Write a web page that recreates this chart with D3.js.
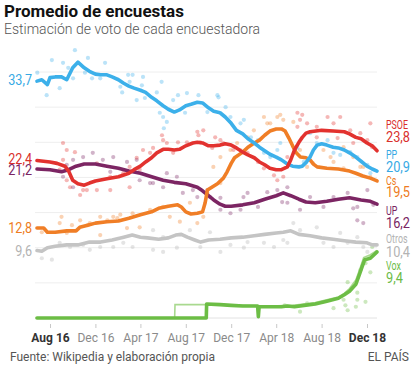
<!DOCTYPE html>
<html><head><meta charset="utf-8">
<script src="https://cdn.jsdelivr.net/npm/d3@7"></script>
<style>
body{margin:0;background:#fff;}
svg{display:block;font-family:Roboto,"Noto Sans",sans-serif;}
</style></head><body>
<svg id="c" width="414" height="367"></svg>
<script>
// ---------- DATA ----------
const parties = ["PSOE","PP","Cs","UP","Otros","Vox"];
const tickDates = ["2016-08-01","2016-12-01","2017-04-01","2017-08-01","2017-12-01","2018-04-01","2018-08-01","2018-12-01"];
const tickLabels = ["Aug 16","Dec 16","Apr 17","Aug 17","Dec 17","Apr 18","Aug 18","Dec 18"];
const gridValues = [0,5,10,15,20,25,30,35];

const ppLine = [["2016-06-27",33.7],["2016-07-10",33.9],["2016-07-25",33.2],["2016-08-01",34.2],["2016-08-15",34.3],["2016-09-01",34.3],["2016-09-15",33.9],["2016-10-01",35.6],["2016-10-15",36.4],["2016-11-01",35.6],["2016-11-15",35.1],["2016-12-01",34.7],["2016-12-15",34.6],["2017-01-01",34.6],["2017-01-15",34.3],["2017-02-01",33.9],["2017-02-15",33.4],["2017-03-01",33.0],["2017-03-15",32.7],["2017-04-01",32.4],["2017-04-15",32.1],["2017-05-01",31.4],["2017-05-15",30.9],["2017-06-01",30.2],["2017-06-15",29.7],["2017-07-01",29.3],["2017-07-15",29.6],["2017-08-01",30.2],["2017-08-15",30.4],["2017-09-01",30.7],["2017-09-15",30.6],["2017-10-01",29.9],["2017-10-15",29.4],["2017-11-01",29.2],["2017-11-15",28.6],["2017-12-01",27.7],["2017-12-15",26.7],["2018-01-01",26.2],["2018-01-15",25.5],["2018-02-01",24.9],["2018-02-15",24.3],["2018-03-01",23.8],["2018-03-15",23.3],["2018-04-01",22.9],["2018-04-15",22.5],["2018-05-01",21.9],["2018-05-15",21.6],["2018-06-01",21.5],["2018-06-10",21.6],["2018-06-20",22.1],["2018-07-01",22.9],["2018-07-10",23.9],["2018-07-20",24.6],["2018-08-01",24.8],["2018-08-15",24.6],["2018-09-01",24.3],["2018-09-15",24.2],["2018-10-01",23.9],["2018-10-15",23.5],["2018-11-01",22.9],["2018-11-15",22.3],["2018-12-01",21.6],["2018-12-15",21.2],["2018-12-28",20.9]];

const psoeLine = [["2016-06-27",22.4],["2016-08-01",22.2],["2016-08-20",22.0],["2016-09-10",21.6],["2016-09-20",20.9],["2016-10-01",19.6],["2016-10-15",19.1],["2016-11-01",18.9],["2016-11-15",19.2],["2016-12-01",19.5],["2017-01-01",19.8],["2017-02-01",20.1],["2017-03-01",20.6],["2017-03-15",21.1],["2017-04-01",21.6],["2017-04-15",22.2],["2017-05-01",22.8],["2017-05-15",23.5],["2017-06-01",24.0],["2017-06-15",24.0],["2017-07-01",23.9],["2017-07-15",24.0],["2017-08-01",24.5],["2017-08-20",24.9],["2017-09-01",25.0],["2017-09-15",24.9],["2017-10-01",24.5],["2017-10-15",24.5],["2017-11-01",24.6],["2017-11-15",24.8],["2017-12-01",24.6],["2017-12-15",24.2],["2018-01-01",23.6],["2018-01-15",23.2],["2018-02-01",22.8],["2018-02-15",22.2],["2018-03-01",21.8],["2018-03-15",21.3],["2018-04-01",21.1],["2018-04-15",21.1],["2018-05-01",21.5],["2018-05-10",22.5],["2018-05-20",23.9],["2018-06-01",25.0],["2018-06-10",25.7],["2018-06-20",26.3],["2018-07-01",26.5],["2018-08-01",26.7],["2018-09-01",26.6],["2018-10-01",26.5],["2018-10-15",26.2],["2018-11-01",25.7],["2018-11-15",25.5],["2018-12-01",24.9],["2018-12-15",24.5],["2018-12-28",23.8]];

const upLine = [["2016-06-27",21.2],["2016-08-01",21.1],["2016-09-01",20.8],["2016-09-20",21.1],["2016-10-10",21.6],["2016-11-01",21.9],["2016-12-01",21.9],["2017-01-01",21.6],["2017-02-01",21.3],["2017-03-01",20.9],["2017-04-01",20.6],["2017-05-01",20.1],["2017-06-01",19.6],["2017-07-01",19.3],["2017-08-01",19.1],["2017-09-01",18.6],["2017-09-15",18.1],["2017-10-01",17.4],["2017-10-15",16.8],["2017-11-01",16.2],["2017-11-15",15.9],["2017-12-01",15.9],["2018-01-01",16.1],["2018-02-01",16.4],["2018-03-01",16.9],["2018-04-01",17.4],["2018-04-20",17.8],["2018-05-10",17.4],["2018-06-01",16.9],["2018-06-20",16.5],["2018-07-15",16.4],["2018-08-15",16.6],["2018-09-15",16.9],["2018-10-15",17.1],["2018-11-15",16.8],["2018-12-10",16.6],["2018-12-28",16.2]];

const csLine = [["2016-06-27",12.8],["2016-07-15",12.8],["2016-07-25",12.2],["2016-08-15",12.2],["2016-09-15",12.4],["2016-10-10",12.4],["2016-10-20",12.9],["2016-11-10",13.2],["2016-12-01",13.5],["2017-01-01",13.7],["2017-02-01",13.8],["2017-03-01",14.2],["2017-04-01",14.7],["2017-05-01",15.1],["2017-05-20",15.6],["2017-06-15",15.9],["2017-07-10",16.1],["2017-07-20",15.8],["2017-08-01",15.1],["2017-08-15",14.8],["2017-09-01",14.9],["2017-09-15",15.1],["2017-09-22",16.4],["2017-09-28",18.2],["2017-10-10",18.6],["2017-10-25",19.1],["2017-11-10",19.9],["2017-11-20",20.8],["2017-12-01",22.0],["2017-12-10",22.8],["2018-01-01",23.6],["2018-01-15",24.3],["2018-02-01",24.9],["2018-02-15",25.3],["2018-03-01",26.0],["2018-03-15",26.6],["2018-04-01",26.9],["2018-04-15",26.9],["2018-04-25",26.6],["2018-05-05",25.6],["2018-05-15",24.5],["2018-05-25",23.5],["2018-06-05",22.9],["2018-06-20",22.8],["2018-07-01",22.5],["2018-07-10",21.9],["2018-07-20",21.5],["2018-08-15",21.3],["2018-09-15",21.2],["2018-10-15",20.9],["2018-11-01",20.6],["2018-11-20",20.2],["2018-12-10",19.9],["2018-12-28",19.5]];

const otrosLine = [["2016-06-27",9.6],["2016-07-10",9.5],["2016-07-25",10.0],["2016-08-15",10.2],["2016-09-15",10.4],["2016-10-15",10.4],["2016-11-15",10.8],["2016-12-15",10.8],["2017-01-15",11.1],["2017-02-15",11.5],["2017-03-10",11.8],["2017-04-01",11.5],["2017-04-20",11.4],["2017-05-20",11.2],["2017-06-15",11.4],["2017-07-05",11.8],["2017-07-20",11.9],["2017-08-05",11.5],["2017-08-25",11.1],["2017-09-10",10.8],["2017-10-01",11.1],["2017-11-01",11.2],["2017-12-01",11.4],["2018-01-01",11.5],["2018-02-01",11.7],["2018-03-01",11.9],["2018-04-01",12.1],["2018-04-20",12.2],["2018-05-10",12.4],["2018-06-01",11.9],["2018-07-01",11.7],["2018-08-01",11.4],["2018-09-01",11.2],["2018-10-01",11.0],["2018-11-01",10.8],["2018-12-01",10.7],["2018-12-15",10.4],["2018-12-28",10.4]];

const voxLine = [["2016-06-27",0],["2017-09-25",0],["2017-09-26",2.0],["2017-11-01",1.9],["2017-12-01",1.8],["2018-01-01",1.7],["2018-02-10",1.7],["2018-02-12",0.2],["2018-02-14",1.6],["2018-03-15",1.6],["2018-04-15",1.6],["2018-05-01",1.7],["2018-05-20",1.6],["2018-06-15",1.8],["2018-07-15",2.0],["2018-08-15",2.4],["2018-09-15",2.8],["2018-10-01",3.3],["2018-10-15",3.8],["2018-11-01",4.8],["2018-11-10",6.1],["2018-11-18",7.3],["2018-11-25",8.3],["2018-12-10",8.5],["2018-12-20",9.0],["2018-12-28",9.4]];

const voxAltLine = [["2016-06-27",0],["2017-07-02",0],["2017-07-03",1.9],["2017-10-01",1.9],["2018-01-01",1.8],["2018-03-15",1.7],["2018-05-15",1.8],["2018-06-15",2.0],["2018-07-15",2.2],["2018-08-15",2.6],["2018-09-15",3.0],["2018-10-01",3.5],["2018-10-15",4.2],["2018-11-01",5.4],["2018-11-12",7.0],["2018-11-22",8.6],["2018-12-10",9.0],["2018-12-28",9.6]];

const ppPolls = [["2016-06-28",34.9],["2016-07-23",31.7],["2016-08-06",36.7],["2016-09-05",36.3],["2016-09-19",35.6],["2016-08-27",32.7],["2016-10-02",34.1],["2016-10-07",38.1],["2016-11-11",37.0],["2016-11-03",34.9],["2016-11-22",34.1],["2016-12-14",34.1],["2016-12-27",36.3],["2017-02-06",32.9],["2017-02-11",32.1],["2017-02-27",34.6],["2017-03-03",33.6],["2017-03-11",34.6],["2017-04-08",34.3],["2017-04-05",33.1],["2017-03-22",31.0],["2017-04-13",31.3],["2017-05-15",32.1],["2017-05-28",33.6],["2017-05-23",29.2],["2017-06-01",28.6],["2017-06-11",27.9],["2017-06-03",27.0],["2017-06-28",31.0],["2017-07-11",31.7],["2017-07-30",29.2],["2017-08-04",32.0],["2017-09-04",31.7],["2017-09-28",29.3],["2017-10-25",31.7],["2017-10-28",31.4],["2017-11-16",30.0],["2017-11-29",28.6],["2017-12-26",27.7],["2018-01-04",28.2],["2018-01-23",25.7],["2018-02-11",25.3],["2018-02-27",23.5],["2018-03-16",22.9],["2018-04-04",23.9],["2018-04-12",24.9],["2018-05-28",24.2],["2018-06-14",22.2],["2018-07-01",26.3],["2018-07-19",24.9],["2018-08-17",25.3],["2018-09-02",23.5],["2018-09-20",23.2],["2018-10-17",23.6],["2018-11-05",22.9],["2018-12-02",21.8],["2018-12-10",20.6]];

const psoePolls = [["2016-08-27",21.1],["2016-09-05",24.9],["2016-09-05",22.5],["2016-09-15",23.9],["2016-09-15",19.6],["2016-09-24",18.6],["2016-10-07",23.6],["2016-10-21",17.5],["2016-10-29",18.2],["2016-11-08",18.2],["2016-12-05",22.0],["2016-12-05",18.2],["2017-01-10",20.1],["2017-01-10",18.2],["2017-02-14",20.6],["2017-03-03",18.6],["2017-03-03",21.5],["2017-03-22",22.8],["2017-03-30",21.1],["2017-04-08",23.9],["2017-04-27",23.5],["2017-05-05",24.2],["2017-05-29",26.0],["2017-06-01",25.3],["2017-06-11",24.9],["2017-06-28",23.5],["2017-07-11",25.0],["2017-08-04",25.0],["2017-09-01",26.5],["2017-09-04",26.0],["2017-09-09",25.0],["2017-09-17",26.7],["2017-10-11",24.2],["2017-10-19",25.7],["2017-11-02",25.3],["2017-11-10",24.9],["2017-12-07",23.9],["2018-01-14",23.5],["2018-02-11",22.2],["2018-02-27",21.3],["2018-03-26",20.3],["2018-04-04",19.6],["2018-04-20",20.1],["2018-05-01",22.9],["2018-05-28",27.2],["2018-05-28",29.2],["2018-06-04",28.2],["2018-06-10",28.9],["2018-06-23",27.7],["2018-07-19",27.2],["2018-07-19",25.7],["2018-08-17",28.6],["2018-09-02",27.7],["2018-09-13",25.6],["2018-09-20",28.6],["2018-10-17",26.7],["2018-10-25",24.9],["2018-11-13",26.3],["2018-12-02",25.3],["2018-12-10",27.7],["2018-12-15",24.3]];

const upPolls = [["2016-09-05",20.1],["2016-09-15",21.8],["2016-10-02",22.5],["2016-10-02",18.6],["2016-10-29",22.9],["2016-11-24",23.5],["2016-12-21",22.5],["2017-01-10",20.8],["2017-01-18",22.9],["2017-02-24",22.2],["2017-03-22",22.5],["2017-03-30",19.6],["2017-04-27",19.2],["2017-05-05",19.2],["2017-06-01",18.6],["2017-06-11",20.6],["2017-07-08",20.1],["2017-07-24",17.8],["2017-08-20",18.2],["2017-09-01",17.2],["2017-09-28",18.2],["2017-10-05",17.2],["2017-11-02",15.4],["2017-11-02",17.1],["2017-11-29",14.9],["2017-12-26",15.4],["2018-01-03",17.2],["2018-01-14",17.8],["2018-02-11",15.8],["2018-03-08",17.9],["2018-04-04",18.2],["2018-04-17",16.5],["2018-05-01",18.6],["2018-05-01",16.4],["2018-06-04",15.4],["2018-07-01",17.2],["2018-08-06",15.8],["2018-09-02",17.2],["2018-10-10",17.8],["2018-10-25",15.6],["2018-11-05",15.8],["2018-11-05",13.9],["2018-11-21",13.5],["2018-12-02",18.2],["2018-12-18",16.1]];

const csPolls = [["2016-07-10",12.2],["2016-08-27",13.5],["2016-09-01",14.4],["2016-09-15",12.1],["2016-09-29",13.2],["2016-10-21",13.9],["2016-11-11",13.2],["2016-11-16",13.5],["2016-12-14",14.4],["2016-12-14",11.8],["2017-01-02",13.9],["2017-01-18",14.4],["2017-01-29",14.2],["2017-02-06",14.7],["2017-02-24",12.8],["2017-03-11",14.9],["2017-03-30",12.9],["2017-04-27",15.4],["2017-06-01",15.8],["2017-06-19",14.4],["2017-07-16",13.7],["2017-08-12",16.4],["2017-09-01",13.5],["2017-09-17",14.4],["2017-09-28",17.8],["2017-10-14",21.5],["2017-11-02",19.2],["2017-11-02",22.9],["2017-11-29",23.9],["2017-12-17",24.9],["2017-12-26",23.9],["2018-01-14",25.7],["2018-01-31",26.7],["2018-02-27",28.6],["2018-03-08",27.7],["2018-03-16",27.7],["2018-04-04",28.6],["2018-04-12",28.9],["2018-04-20",28.2],["2018-05-17",27.9],["2018-06-04",23.9],["2018-06-23",21.5],["2018-07-09",22.0],["2018-08-06",23.9],["2018-08-25",22.9],["2018-09-02",22.2],["2018-09-29",24.3],["2018-09-29",21.3],["2018-10-25",22.9],["2018-11-13",21.5],["2018-11-21",21.5],["2018-12-10",20.1]];

const otrosPolls = [["2016-07-10",8.5],["2016-08-06",8.3],["2016-08-27",10.7],["2016-09-24",10.1],["2016-10-29",10.4],["2016-11-16",9.7],["2016-12-14",10.1],["2017-01-18",10.1],["2017-02-14",10.7],["2017-03-11",10.1],["2017-05-05",12.5],["2017-05-05",9.7],["2017-06-01",11.5],["2017-06-01",9.4],["2017-07-08",10.0],["2017-08-12",12.5],["2017-09-09",10.1],["2017-10-05",12.2],["2017-11-02",9.4],["2017-11-29",10.4],["2018-01-04",10.0],["2018-01-14",10.8],["2018-02-27",10.7],["2018-03-26",10.1],["2018-04-20",11.1],["2018-05-01",10.7],["2018-05-17",13.5],["2018-06-04",12.5],["2018-07-19",12.9],["2018-08-06",10.7],["2018-09-02",10.1],["2018-09-20",12.1],["2018-10-10",10.7],["2018-11-05",11.5],["2018-11-21",10.1],["2018-12-02",9.4]];

const voxPolls = [["2018-04-24",1.8],["2018-06-04",0.9],["2018-06-23",2.1],["2018-09-02",1.4],["2018-09-29",2.6],["2018-10-04",1.8],["2018-10-10",5.1],["2018-10-10",1.1],["2018-11-01",1.6],["2018-11-05",3.6],["2018-11-05",2.6],["2018-11-13",6.8],["2018-11-27",7.8],["2018-11-27",2.3],["2018-12-10",8.7],["2018-12-10",6.5],["2018-12-15",10.1],["2018-12-18",9.0]];

// ---------- STYLE / LAYOUT ----------
const lineColors = {PSOE:"#e2322f",PP:"#3cb0ea",Cs:"#f07e26",UP:"#7c2563",Otros:"#c4c4c4",Vox:"#6cbd45"};
const textColors = {PSOE:"#d9302c",PP:"#36a9e4",Cs:"#ee7c22",UP:"#7a2462",Otros:"#b3b3b3",Vox:"#6cbb47"};
const lines = {PSOE:psoeLine,PP:ppLine,Cs:csLine,UP:upLine,Otros:otrosLine,Vox:voxLine};
const polls = {PSOE:psoePolls,PP:ppPolls,Cs:csPolls,UP:upPolls,Otros:otrosPolls,Vox:voxPolls};
const rightLabelLayout = {PSOE:[129,142],PP:[159,172],Cs:[185,197],UP:[215,228],Otros:[243,257],Vox:[270,283]};
const leftLabelShift = {PP:4,PSOE:3,UP:6,Cs:5,Otros:5};

const parse = d3.timeParse("%Y-%m-%d");
const fmt = d3.formatLocale({decimal:",",thousands:".",grouping:[3],currency:["","€"]}).format(".1f");

const svg = d3.select("#c");
const x = d3.scaleTime().domain([parse(tickDates[0]), parse(tickDates[tickDates.length-1])]).range([50,367]);
const y = d3.scaleLinear().domain([0,35]).range([318,72]);

// grid
svg.append("g").selectAll("line").data(gridValues).join("line")
  .attr("x1",35).attr("x2",377)
  .attr("y1",d=>y(d)).attr("y2",d=>y(d))
  .attr("stroke",d=>d===0?"#e2e2e2":"#eeeeee").attr("stroke-width",1);

// dots
const drawOrder = ["Otros","Vox","UP","Cs","PP","PSOE"];
drawOrder.forEach(p=>{
  svg.append("g").selectAll("circle").data(polls[p]).join("circle")
    .attr("cx",d=>x(parse(d[0]))).attr("cy",d=>y(d[1])).attr("r",2.1)
    .attr("fill",lineColors[p]).attr("fill-opacity",p==="Otros"?0.45:0.35);
});

const line = d3.line().x(d=>x(parse(d[0]))).y(d=>y(d[1]));

// vox alt thin line
svg.append("path").datum(voxAltLine).attr("d",line)
  .attr("fill","none").attr("stroke","#a9d98f").attr("stroke-width",1.6);

drawOrder.forEach(p=>{
  svg.append("path").datum(lines[p]).attr("d",line)
    .attr("fill","none").attr("stroke",lineColors[p])
    .attr("stroke-width",3.6).attr("stroke-linejoin","round").attr("stroke-linecap","round");
});

// axis
const ax = svg.append("g").attr("transform","translate(0,324)")
  .call(d3.axisBottom(x).tickValues(tickDates.map(parse)).tickSize(4).tickPadding(5)
    .tickFormat((d,i)=>tickLabels[i]));
ax.select(".domain").remove();
ax.selectAll(".tick line").attr("stroke","#c8c8c8");
ax.selectAll(".tick text").attr("font-size",12).attr("font-family","Roboto, sans-serif")
  .attr("fill",(d,i)=>(i===0||i===tickLabels.length-1)?"#333":"#8a8a8a")
  .attr("font-weight",(d,i)=>(i===0||i===tickLabels.length-1)?700:400);

// condensed text helper (real text, horizontally narrowed)
function ctext(g, tx, ty, sx, size, color, str, anchor){
  return g.append("text").attr("transform",`translate(${tx},${ty}) scale(${sx},1)`)
    .attr("text-anchor",anchor||"start").attr("font-size",size).attr("fill",color).text(str);
}

// left labels
["PP","PSOE","UP","Cs","Otros"].forEach(p=>{
  const v = lines[p][0][1];
  ctext(svg, 32, y(v)+leftLabelShift[p], 0.9, 14, textColors[p], fmt(v), "end");
});

// right labels
parties.forEach(p=>{
  const arr = lines[p];
  const v = arr[arr.length-1][1];
  const [ny,vy] = rightLabelLayout[p];
  ctext(svg, 386, ny, 0.74, 12, textColors[p], p);
  ctext(svg, 386, vy, 0.85, 15, textColors[p], fmt(v));
});

// titles
svg.append("text").attr("x",4).attr("y",17).attr("font-size",17).attr("font-weight",700)
  .attr("fill","#111").text("Promedio de encuestas");
svg.append("text").attr("x",4).attr("y",34).attr("font-size",14).attr("font-weight",300)
  .attr("fill","#555").text("Estimación de voto de cada encuestadora");

// footer
svg.append("text").attr("x",10).attr("y",361).attr("font-size",12)
  .attr("fill","#555").text("Fuente: Wikipedia y elaboración propia");
svg.append("text").attr("x",409).attr("y",361).attr("font-size",12).attr("text-anchor","end")
  .attr("fill","#555").text("EL PAÍS");
</script></body></html>
